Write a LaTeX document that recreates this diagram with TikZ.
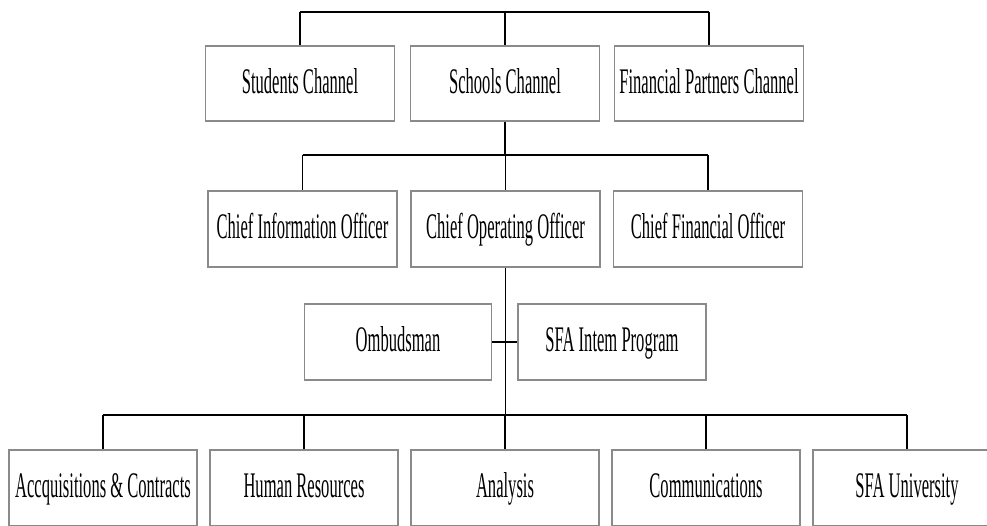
\documentclass[tikz,border=0pt]{standalone}
\usepackage{fontspec}
\setmainfont[FakeStretch=0.46]{Liberation Serif}
\definecolor{boxgray}{RGB}{138,138,138}
\begin{document}
\begin{tikzpicture}[x=1pt,y=-1pt,
  box/.style={draw=boxgray, line width=1.6pt, fill=white,
    minimum width=189pt, minimum height=76pt, inner sep=0pt,
    text height=26pt, text depth=7pt,
    font=\fontsize{36}{40}\selectfont},
  bus/.style={line width=2.8pt},
  link/.style={line width=1.3pt}]
\useasboundingbox (0,0) rectangle (987,525);
% row 1
\node[box, minimum height=75pt] (stu) at (300,83.5) {Students Channel};
\node[box, minimum height=75pt] (sch) at (505,83.5) {Schools Channel};
\node[box, minimum height=75pt] (fin) at (709,83.5) {Financial Partners Channel};
% row 2
\node[box] (cio) at (302.5,229) {Chief Information Officer};
\node[box] (coo) at (505.5,229) {Chief Operating Officer};
\node[box] (cfo) at (708,229) {Chief Financial Officer};
% row 3
\node[box, minimum width=187pt] (omb) at (398,342) {Ombudsman};
\node[box, minimum width=188pt] (sfa) at (612,342) {SFA Intem Program};
% row 4
\node[box, minimum width=188pt] (acq) at (103,488) {Accquisitions \& Contracts};
\node[box, minimum width=188pt] (hr)  at (304,488) {Human Resources};
\node[box, minimum width=188pt] (ana) at (505,488) {Analysis};
\node[box, minimum width=188pt] (com) at (706,488) {Communications};
\node[box, minimum width=188pt] (sfu) at (907,488) {SFA University};
% bus levels
\coordinate (b1) at (505,12);
\coordinate (b2) at (505,155);
\coordinate (b3) at (505,415);
% top bus
\draw[link] (stu.north) -- (stu.north |- b1);
\draw[link] (sch.north) -- (sch.north |- b1);
\draw[link] (fin.north) -- (fin.north |- b1);
\draw[bus] (stu.north |- b1) -- (fin.north |- b1);
% second bus
\draw[link] (sch.south) -- (sch.south |- b2);
\draw[link] (cio.north) -- (cio.north |- b2);
\draw[link] (coo.north) -- (coo.north |- b2);
\draw[link] (cfo.north) -- (cfo.north |- b2);
\draw[bus] (cio.north |- b2) -- (cfo.north |- b2);
% third level
\draw[link] (coo.south) -- (coo.south |- b3);
\draw[bus] (omb.east) -- (sfa.west);
\draw[link] (acq.north) -- (acq.north |- b3);
\draw[link] (hr.north) -- (hr.north |- b3);
\draw[link] (ana.north) -- (ana.north |- b3);
\draw[link] (com.north) -- (com.north |- b3);
\draw[link] (sfu.north) -- (sfu.north |- b3);
\draw[bus] (acq.north |- b3) -- (sfu.north |- b3);
\end{tikzpicture}
\end{document}
